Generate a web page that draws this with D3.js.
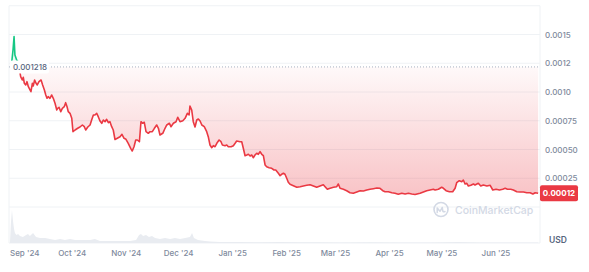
<!DOCTYPE html>
<html>
<head>
<meta charset="utf-8">
<script src="https://d3js.org/d3.v7.min.js"></script>
<style>
  body { margin: 0; background: #fff; }
  svg text { font-family: Inter, "Noto Sans", sans-serif; }
</style>
</head>
<body>
<svg id="chart" width="589" height="272"></svg>
<script>
// data: days since START, price in USD
const START = new Date(2024, 7, 26);
const END = new Date(2025, 5, 26, 14);

const priceDays = [
  1.5, 2.3, 2.9, 3.4, 4.4, 5.3, 6.7, 7.6, 8.2, 8.8,
  9.6, 10.3, 11.1, 11.9, 12.6, 13.4, 13.9, 14.7, 15.5, 16.2,
  17.2, 18.4, 19.3, 20.3, 21.1, 21.8, 22.5, 23.5, 24.5, 25.4,
  26.4, 27.4, 27.9, 28.7, 29.7, 30.6, 31.7, 32.5, 33.3, 34.0,
  35.0, 36.0, 36.7, 37.9, 39.4, 40.7, 42.1, 43.2, 44.0, 45.2,
  46.5, 47.4, 48.4, 49.3, 50.3, 51.2, 52.2, 53.2, 54.1, 55.1,
  56.0, 57.0, 57.9, 58.9, 59.8, 60.8, 62.1, 63.7, 64.8, 66.0,
  67.1, 68.4, 69.8, 70.7, 71.7, 72.7, 73.6, 74.8, 75.7, 76.7,
  77.6, 78.6, 79.9, 80.9, 82.2, 83.4, 84.7, 85.7, 86.6, 88.2,
  89.5, 90.5, 92.0, 92.9, 94.3, 95.8, 96.8, 98.1, 99.7, 101.0,
  102.3, 103.3, 103.8, 104.8, 105.7, 106.7, 107.7, 108.6, 109.6, 110.6,
  112.0, 113.4, 114.3, 115.3, 116.3, 117.2, 118.2, 119.2, 120.5, 121.6,
  122.4, 123.9, 124.9, 125.8, 127.4, 128.7, 129.7, 130.6, 132.5, 133.5,
  134.4, 135.4, 136.4, 137.3, 138.3, 139.2, 140.2, 141.1, 142.1, 143.0,
  144.0, 145.0, 145.9, 146.9, 147.8, 149.2, 150.7, 152.0, 153.0, 154.5,
  155.5, 156.4, 157.4, 158.3, 159.3, 160.2, 161.2, 163.1, 165.1, 167.0,
  168.8, 170.8, 172.7, 174.6, 176.5, 178.4, 180.3, 181.3, 182.6, 184.2,
  186.1, 188.0, 188.9, 189.9, 191.8, 193.7, 195.6, 197.5, 199.5, 201.4,
  203.3, 205.2, 207.1, 209.0, 211.0, 212.8, 214.4, 215.7, 217.6, 219.6,
  221.4, 223.3, 225.3, 227.2, 229.1, 231.0, 232.9, 235.8, 237.7, 239.6,
  241.5, 243.4, 244.4, 246.3, 248.2, 249.2, 250.7, 252.6, 254.5, 255.9,
  256.8, 258.3, 259.7, 260.6, 261.6, 262.6, 263.5, 264.9, 266.4, 267.3,
  269.2, 270.6, 272.1, 274.1, 276.0, 277.5, 279.4, 281.3, 283.2, 284.6,
  285.9, 287.8, 289.3, 291.3, 293.2, 295.1, 297.0, 298.9, 300.5, 301.8,
  303.5
];

const prices = [
  0.0012496, 0.001365, 0.0014827, 0.0013218, 0.0012783, 0.001261, 0.001133, 0.0011044, 0.0011279, 0.0010757,
  0.0010609, 0.0010896, 0.0010461, 0.0010235, 0.0010026, 0.0010757, 0.0010522, 0.0011044, 0.0010757, 0.0010609,
  0.0010896, 0.0011044, 0.0010609, 0.0010174, 0.000974, 0.0009453, 0.0009592, 0.0009453, 0.000974, 0.0009453,
  0.0009018, 0.0008435, 0.0008583, 0.000867, 0.0008287, 0.0008583, 0.0008722, 0.000907, 0.0008722, 0.0008287,
  0.0008148, 0.0007713, 0.0006548, 0.0006696, 0.0006844, 0.0006957, 0.0007131, 0.0006983, 0.0006696, 0.0006957,
  0.0007131, 0.0007566, 0.0008, 0.0008, 0.0008148, 0.0007852, 0.0007479, 0.0007279, 0.0007566, 0.0007418,
  0.0007626, 0.0007331, 0.0007418, 0.0006983, 0.0006696, 0.000587, 0.0005974, 0.0006113, 0.0006322, 0.0005974,
  0.0005887, 0.0005539, 0.0005105, 0.000487, 0.0005244, 0.0005826, 0.0005826, 0.0005679, 0.0007418, 0.0007279,
  0.0007366, 0.0006548, 0.0006409, 0.0006548, 0.0006548, 0.0006844, 0.0007131, 0.0006844, 0.0006261, 0.0006409,
  0.0006844, 0.0007131, 0.0007279, 0.0006983, 0.0007279, 0.0007418, 0.00078, 0.0007418, 0.0007505, 0.0007713,
  0.0008148, 0.0008, 0.0008783, 0.0008435, 0.0007418, 0.0006957, 0.0007566, 0.0007652, 0.0007479, 0.0007131,
  0.0006983, 0.0006548, 0.0006113, 0.0005392, 0.0005157, 0.0005331, 0.0005244, 0.0005539, 0.0005826, 0.0005679,
  0.0005392, 0.0005331, 0.0005392, 0.0005244, 0.0005244, 0.0005331, 0.0005539, 0.0005739, 0.0005679, 0.0005679,
  0.0005105, 0.0004461, 0.0004522, 0.0004583, 0.0004435, 0.0004522, 0.0004287, 0.0004522, 0.000467, 0.0004583,
  0.0004809, 0.0004583, 0.0004461, 0.0003652, 0.0003504, 0.0003418, 0.0003365, 0.0003218, 0.0003218, 0.0002931,
  0.0002722, 0.0002844, 0.0002931, 0.0002844, 0.0002496, 0.0002148, 0.0001974, 0.0001852, 0.0001713, 0.0001765,
  0.0001826, 0.0001887, 0.0001939, 0.0001826, 0.0001713, 0.0001826, 0.0001939, 0.0001765, 0.0001539, 0.0001626,
  0.0001713, 0.0001765, 0.0002, 0.0001626, 0.0001539, 0.0001417, 0.0001244, 0.0001191, 0.0001304, 0.0001417,
  0.0001391, 0.0001478, 0.0001539, 0.0001591, 0.0001652, 0.0001626, 0.0001417, 0.000133, 0.000133, 0.0001244,
  0.0001191, 0.0001104, 0.0001191, 0.000113, 0.0001191, 0.000113, 0.0001087, 0.0001191, 0.0001304, 0.0001417,
  0.0001478, 0.0001539, 0.0001478, 0.0001539, 0.0001713, 0.0001626, 0.0001417, 0.000133, 0.000133, 0.0001626,
  0.0002113, 0.0002287, 0.00022, 0.0002348, 0.0002, 0.0002061, 0.0001826, 0.0001887, 0.0002, 0.0001913,
  0.0002061, 0.0001826, 0.0001913, 0.0001826, 0.0001887, 0.0001478, 0.0001539, 0.0001478, 0.0001539, 0.0001626,
  0.0001539, 0.0001539, 0.0001478, 0.000133, 0.0001304, 0.0001304, 0.0001244, 0.0001244, 0.000113, 0.0001244,
  0.0001191
];

// volume (millions USD, rough)
const volDays = [
  0.6, 1.1, 1.7, 2.3, 2.9, 3.4, 4.3, 5.2, 6.3, 8,
  9.8, 10.9, 12, 13.8, 15.5, 17.8, 20.7, 23.5, 26.4, 29.3,
  32.1, 35, 37.9, 40.7, 46.5, 49.3, 52.2, 57.9, 63.7, 69.4,
  72.9, 74.6, 75.7, 76.9, 78.6, 80.3, 82, 83.8, 86.6, 89.5,
  92.4, 95.2, 98.1, 101, 103.8, 105, 106.1, 108.4, 112.4, 115.3,
  121, 132.5, 144, 155.5, 167, 178.4, 189.9, 207, 224.3, 241.5,
  257.6, 270.2, 287.4, 303.5
];
const volumes = [
  0.2, 2.0, 3.3, 2.2, 1.4, 1.0, 0.8, 0.9, 0.7, 0.6,
  0.8, 0.9, 0.7, 1.0, 0.6, 0.5, 0.5, 0.4, 0.3, 0.4,
  0.3, 0.4, 0.3, 0.3, 0.3, 0.4, 0.2, 0.2, 0.2, 0.2,
  0.3, 0.8, 0.9, 0.7, 0.8, 0.6, 0.7, 0.5, 0.4, 0.5,
  0.4, 0.5, 0.4, 0.5, 0.6, 1.0, 0.5, 0.3, 0.2, 0.15,
  0.1, 0.1, 0.08, 0.1, 0.07, 0.07, 0.06, 0.07, 0.06, 0.06,
  0.1, 0.06, 0.05, 0.05
];

const openPrice = 0.001218;
const lastPrice = 0.00012;
const yTicks = [0.00025, 0.0005, 0.00075, 0.001, 0.00125, 0.0015];
const yTickLabels = ["0.00025", "0.00050", "0.00075", "0.0010", "0.0012", "0.0015"];
const gridValues = [0, 0.00025, 0.0005, 0.00075, 0.001, 0.00125, 0.0015, 0.00175];

const RED = "#ea3943", GREEN = "#16c784", GRID = "#eff2f5", LABEL = "#808a9d";

const dayToDate = d => new Date(START.getTime() + d * 864e5);
const data = priceDays.map((d, i) => ({ date: dayToDate(d), p: prices[i] }));
const vol = volDays.map((d, i) => ({ date: dayToDate(d), v: volumes[i] }));

const left = 9, right = 540, volTop = 210, volBottom = 243;

const x = d3.scaleTime().domain([START, END]).range([left, right]);
const y = d3.scaleLinear().domain([0, 0.00175]).range([207, 5.75]);
const yv = d3.scaleLinear().domain([0, d3.max(volumes)]).range([volBottom, volTop]);

const svg = d3.select("#chart");
const defs = svg.append("defs");

// gradients
const gRed = defs.append("linearGradient").attr("id", "gRed")
  .attr("gradientUnits", "userSpaceOnUse")
  .attr("x1", 0).attr("x2", 0).attr("y1", y(openPrice)).attr("y2", y(0.0001));
gRed.append("stop").attr("offset", 0).attr("stop-color", RED).attr("stop-opacity", 0.03);
gRed.append("stop").attr("offset", 1).attr("stop-color", RED).attr("stop-opacity", 0.3);

const gGreen = defs.append("linearGradient").attr("id", "gGreen")
  .attr("gradientUnits", "userSpaceOnUse")
  .attr("x1", 0).attr("x2", 0).attr("y1", y(0.0015)).attr("y2", y(openPrice));
gGreen.append("stop").attr("offset", 0).attr("stop-color", GREEN).attr("stop-opacity", 0.25);
gGreen.append("stop").attr("offset", 1).attr("stop-color", GREEN).attr("stop-opacity", 0.03);

defs.append("clipPath").attr("id", "below").append("rect")
  .attr("x", left).attr("width", right - left)
  .attr("y", y(openPrice)).attr("height", y(0) - y(openPrice));
defs.append("clipPath").attr("id", "above").append("rect")
  .attr("x", left).attr("width", right - left)
  .attr("y", 0).attr("height", y(openPrice));

// grid
svg.append("g").selectAll("line").data(gridValues).join("line")
  .attr("x1", left).attr("x2", right)
  .attr("y1", d => y(d)).attr("y2", d => y(d))
  .attr("stroke", GRID).attr("stroke-width", 1);

svg.append("g").selectAll("line").data([left, right]).join("line")
  .attr("x1", d => d).attr("x2", d => d)
  .attr("y1", y(0.00175)).attr("y2", volBottom)
  .attr("stroke", GRID).attr("stroke-width", 1);

svg.append("line")
  .attr("x1", left).attr("x2", right).attr("y1", volBottom).attr("y2", volBottom)
  .attr("stroke", GRID);

// volume
svg.append("path").datum(vol)
  .attr("d", d3.area().x(d => x(d.date)).y0(volBottom).y1(d => yv(d.v)))
  .attr("fill", "#e9ecf1");

// watermark
const wm = svg.append("g").attr("transform", "translate(441,209.5)");
wm.append("circle").attr("r", 7).attr("fill", "none")
  .attr("stroke", "#d3d9e5").attr("stroke-width", 1.6);
wm.append("path").attr("d", "M-3.8,3 V-1.5 L-1,1.8 L1.3,-2 L1.8,1.5 Q2.6,2.8 4,2")
  .attr("fill", "none").attr("stroke", "#d3d9e5").attr("stroke-width", 1.5)
  .attr("stroke-linejoin", "round").attr("stroke-linecap", "round");
svg.append("text").attr("x", 455).attr("y", 213.5)
  .attr("font-size", 10.5).attr("font-weight", 500).attr("fill", "#d3d9e5")
  .text("CoinMarketCap");

// fills between price and open price
const area = d3.area().x(d => x(d.date)).y0(y(openPrice)).y1(d => y(d.p));
svg.append("path").datum(data).attr("d", area)
  .attr("fill", "url(#gRed)").attr("clip-path", "url(#below)");
svg.append("path").datum(data).attr("d", area)
  .attr("fill", "url(#gGreen)").attr("clip-path", "url(#above)");

// dotted open line
svg.append("line")
  .attr("x1", left).attr("x2", right)
  .attr("y1", y(openPrice)).attr("y2", y(openPrice))
  .attr("stroke", "#a9b1c1").attr("stroke-width", 1).attr("stroke-dasharray", "1,2");

// price line
const line = d3.line().x(d => x(d.date)).y(d => y(d.p));
svg.append("path").datum(data).attr("d", line)
  .attr("fill", "none").attr("stroke", RED).attr("stroke-width", 1.6)
  .attr("stroke-linejoin", "round").attr("clip-path", "url(#below)");
svg.append("path").datum(data).attr("d", line)
  .attr("fill", "none").attr("stroke", GREEN).attr("stroke-width", 1.6)
  .attr("stroke-linejoin", "round").attr("clip-path", "url(#above)");

// open price label
svg.append("rect").attr("x", 10).attr("y", y(openPrice) - 6.5)
  .attr("width", 39).attr("height", 13).attr("rx", 2).attr("fill", "#fff");
svg.append("text").attr("x", 13).attr("y", y(openPrice) + 3)
  .attr("font-size", 8).attr("font-weight", 500).attr("fill", "#58667e")
  .text(openPrice.toFixed(6));

// y labels
svg.append("g").selectAll("text").data(yTicks).join("text")
  .attr("x", 545).attr("y", d => y(d) + 3)
  .attr("font-size", 8).attr("font-weight", 500).attr("fill", LABEL)
  .text((d, i) => yTickLabels[i]);

// last price badge
const by = y(lastPrice);
svg.append("rect").attr("x", 540).attr("y", by - 8).attr("width", 38).attr("height", 16)
  .attr("rx", 2).attr("fill", RED);
svg.append("text").attr("x", 559).attr("y", by + 3).attr("text-anchor", "middle")
  .attr("font-size", 8).attr("font-weight", 700).attr("fill", "#fff")
  .text(lastPrice.toFixed(5));

svg.append("text").attr("x", 549).attr("y", 243)
  .attr("font-size", 8.5).attr("font-weight", 600).attr("fill", "#58667e")
  .text("USD");

// x axis
const xAxis = d3.axisBottom(x)
  .ticks(d3.timeMonth.every(1))
  .tickFormat(d3.timeFormat("%b '%y"))
  .tickSize(0).tickPadding(7.8);

const gx = svg.append("g").attr("transform", `translate(0,${volBottom})`).call(xAxis);
gx.select(".domain").remove();
gx.selectAll("text")
  .attr("font-size", 8).attr("font-weight", 500).attr("fill", LABEL)
  .style("font-family", "Inter, 'Noto Sans', sans-serif")
  .each(function () {
    const t = d3.select(this);
    const cx = +this.parentNode.getAttribute("transform").match(/translate\(([-\d.]+)/)[1];
    const w = this.getComputedTextLength();
    if (cx - w / 2 < left + 1) t.attr("x", left + 1 - (cx - w / 2));
  });
</script>
</body>
</html>
